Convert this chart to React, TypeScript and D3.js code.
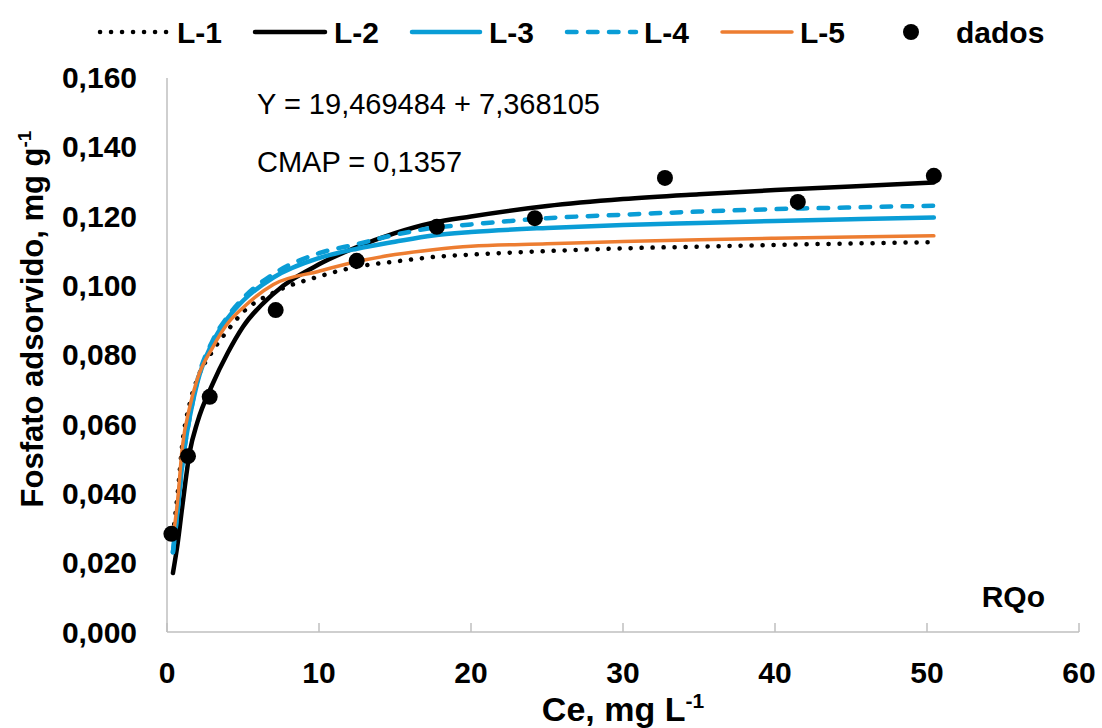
import * as d3 from 'd3';
import React from 'react';

// valores (Ce em mg/L, fosfato adsorvido em mg/g)
const ceGrid = [0.39, 0.7, 1, 1.5, 2, 3, 4, 5, 7, 10, 12.5, 15, 17.5, 20, 25, 30, 35, 40, 45, 50.45];

const l1 = [0.028, 0.040, 0.054, 0.066, 0.073, 0.081, 0.087, 0.0922, 0.0978, 0.1025, 0.1053, 0.1068, 0.1081, 0.1088, 0.1098, 0.1106, 0.1111, 0.1116, 0.1120, 0.1124];
const l2 = [0.017, 0.0255, 0.036, 0.052, 0.0605, 0.0715, 0.0805, 0.0880, 0.0975, 0.1060, 0.1110, 0.1150, 0.1180, 0.1198, 0.1228, 0.1248, 0.1262, 0.1274, 0.1284, 0.1296];
const l3 = [0.023, 0.035, 0.048, 0.062, 0.072, 0.0835, 0.0905, 0.0955, 0.1022, 0.1078, 0.1105, 0.1125, 0.1143, 0.1153, 0.1165, 0.1173, 0.1179, 0.1185, 0.1190, 0.1195];
const l4 = [0.023, 0.035, 0.048, 0.062, 0.0725, 0.084, 0.091, 0.0962, 0.1032, 0.1092, 0.1118, 0.1145, 0.1165, 0.1175, 0.1193, 0.1203, 0.1212, 0.1219, 0.1224, 0.1229];
const l5 = [0.027, 0.038, 0.053, 0.065, 0.073, 0.082, 0.089, 0.0935, 0.1002, 0.1040, 0.1068, 0.1088, 0.1102, 0.1112, 0.1119, 0.1126, 0.1131, 0.1135, 0.1139, 0.1142];

const dadosCe = [0.29, 1.38, 2.81, 7.15, 12.48, 17.75, 24.2, 32.76, 41.5, 50.45];
const dadosQ = [0.0283, 0.0507, 0.0678, 0.0928, 0.107, 0.1168, 0.1193, 0.1309, 0.124, 0.1315];

const xTicks = [0, 10, 20, 30, 40, 50, 60];
const yTicks = [0, 0.02, 0.04, 0.06, 0.08, 0.1, 0.12, 0.14, 0.16];

const seriesNames = ['L-1', 'L-2', 'L-3', 'L-4', 'L-5'];

const W = 1102;
const H = 728;
const FONT = 'Liberation Sans, Arial, sans-serif';

const styles = [
  { color: '#000000', width: 4.5, dash: '0.1 10.9' },
  { color: '#000000', width: 4.5, dash: null },
  { color: '#0a9dd6', width: 4.5, dash: null },
  { color: '#0a9dd6', width: 4.5, dash: '9.5 11.5' },
  { color: '#ed7d31', width: 3.5, dash: null },
];

export default function App() {
  const x = d3.scaleLinear().domain([0, 60]).range([167, 1079]);
  const y = d3.scaleLinear().domain([0, 0.16]).range([632, 77]);

  const series = [l1, l2, l3, l4, l5];
  const line = d3.line<[number, number]>()
    .x(d => x(d[0]))
    .y(d => y(d[1]))
    .curve(d3.curveMonotoneX);

  const fmtY = (v: number) => v.toFixed(3).replace('.', ',');

  // legenda
  const legend = [
    { x1: 100, x2: 168, tx: 177 },
    { x1: 255, x2: 325, tx: 334 },
    { x1: 412, x2: 480, tx: 489 },
    { x1: 567, x2: 636, tx: 644 },
    { x1: 722, x2: 792, tx: 800 },
  ];

  return (
    <svg width={W} height={H} style={{ position: 'absolute', left: 0, top: 0, background: '#fff' }} fontFamily={FONT}>
      {/* eixos */}
      <line x1={x(0)} x2={x(0)} y1={y(0)} y2={78} stroke="#bfbfbf" strokeWidth={1.5} />
      <line x1={x(0)} x2={x(60)} y1={y(0)} y2={y(0)} stroke="#bfbfbf" strokeWidth={1.5} />
      {xTicks.map(t => (
        <g key={'xt' + t}>
          <line x1={x(t)} x2={x(t)} y1={y(0)} y2={y(0) - 9} stroke="#bfbfbf" strokeWidth={1.5} />
          <text x={x(t)} y={683} textAnchor="middle" fontSize={30} fontWeight="bold">{t}</text>
        </g>
      ))}
      {yTicks.map(t => (
        <text key={'yt' + t} x={137} y={y(t)} dy="0.36em" textAnchor="end" fontSize={30} fontWeight="bold">{fmtY(t)}</text>
      ))}

      {/* títulos */}
      <text x={623} y={721} textAnchor="middle" fontSize={34} fontWeight="bold">
        Ce, mg L<tspan dy={-13} fontSize={21}>-1</tspan>
      </text>
      <text transform="translate(43,319) rotate(-90)" textAnchor="middle" fontSize={31} fontWeight="bold">
        Fosfato adsorvido, mg g<tspan dy={-12} fontSize={19}>-1</tspan>
      </text>

      <text x={257} y={114} fontSize={29}>Y = 19,469484 + 7,368105</text>
      <text x={257} y={172} fontSize={29}>CMAP = 0,1357</text>
      <text x={1045} y={607} textAnchor="end" fontSize={30} fontWeight="bold">RQo</text>

      {/* curvas */}
      {series.map((s, i) => (
        <path
          key={'s' + i}
          d={line(ceGrid.map((c, j) => [c, s[j]] as [number, number])) || ''}
          fill="none"
          stroke={styles[i].color}
          strokeWidth={styles[i].width}
          strokeDasharray={styles[i].dash || undefined}
          strokeLinecap="round"
        />
      ))}

      {/* dados */}
      {dadosCe.map((c, i) => (
        <circle key={'d' + i} cx={x(c)} cy={y(dadosQ[i])} r={8} fill="#000" />
      ))}

      {/* legenda */}
      {legend.map((l, i) => (
        <g key={'lg' + i}>
          <line x1={l.x1} x2={l.x2} y1={32} y2={32} stroke={styles[i].color} strokeWidth={styles[i].width}
            strokeDasharray={styles[i].dash || undefined} strokeLinecap="round" />
          <text x={l.tx} y={43} fontSize={30} fontWeight="bold">{seriesNames[i]}</text>
        </g>
      ))}
      <circle cx={911} cy={32} r={8} fill="#000" />
      <text x={956} y={43} fontSize={30} fontWeight="bold">dados</text>
    </svg>
  );
}
